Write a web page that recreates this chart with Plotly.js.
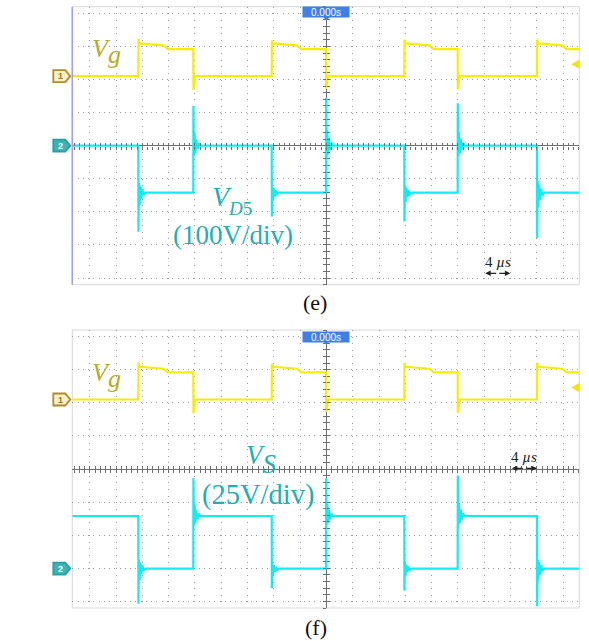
<!DOCTYPE html>
<html><head><meta charset="utf-8">
<script src="https://cdn.plot.ly/plotly-3.0.1.min.js"></script>
<style>html,body{margin:0;padding:0;background:#fff;} #chart{width:589px;height:641px;}</style>
</head><body><div id="chart"></div>
<script>
// ---------- data: time in µs, amplitude in screen divisions ----------
const X_RANGE = [-38.66, 38.45];
const Y_RANGE = [-4.2, 4.2];
const VG_RISE = [-28.62, -8.33, 11.83, 32.02];
const VG_FALL = [-20.26, -0.08, 19.95];
const VG_LEVELS = [2.10, 3.09, 3.03, 2.92];      // low, plateau start, plateau end, shelf
const VG_OVERSHOOT = [3.22, 3.18, 3.20, 3.21];
const VG_UNDERSHOOT = [1.68, 1.72, 1.70];
const VG_STEP = [3.8, 4.5];                       // µs after rising edge
const VD5_LEVELS = [0.0, -1.42];                  // off, on
const VD5_SPIKE_ON = [-2.60, -2.14, -2.29, -2.79];
const VD5_SPIKE_OFF = [1.20, 1.45, 1.28];
const VS_LEVELS = [-1.42, -3.01];
const VS_SPIKE_ON = [-4.07, -3.60, -3.68, -4.15];
const VS_SPIKE_OFF = [-0.27, -0.28, -0.20];
const RING_T = [0.02, 0.10, 0.20, 0.32, 0.46, 0.62, 0.82, 1.10];
const RING_F = [1.0, -0.25, 0.32, -0.18, 0.16, -0.09, 0.06, 0.0];
const TRIG_LEVEL = 2.46;
const CH2_MARK = [0.0, -3.01];                    // ch2 ground markers (top, bottom)
const SCALE_ARROW_TOP = [24.15, 27.95];
const SCALE_ARROW_BOT = [28.2, 32.0];
const LABELS = {vg:'V', g:'g', vd:'V', d5:'<i>D</i>5', div1:'(100V/div)', vs:'V', s:'S', div2:'(25V/div)', e:'(e)', f:'(f)', t:'0.000s', us:'4 <i>µs</i>'};

// ---------- build traces ----------
function buildVg(){
  const x=[X_RANGE[0]], y=[VG_LEVELS[0]];
  VG_RISE.forEach((t,i)=>{
    x.push(t, t+0.03, t+0.15, t+VG_STEP[0], t+VG_STEP[1]);
    y.push(VG_LEVELS[0], VG_OVERSHOOT[i], VG_LEVELS[1], VG_LEVELS[2], VG_LEVELS[3]);
    if(i<VG_FALL.length){
      const f=VG_FALL[i];
      x.push(f, f+0.03, f+0.3);
      y.push(VG_LEVELS[3], VG_UNDERSHOOT[i], VG_LEVELS[0]);
    }
  });
  x.push(X_RANGE[1]); y.push(VG_LEVELS[3]);
  return {x,y};
}
function buildCh2(levels, spOn, spOff){
  const off=levels[0], on=levels[1];
  const x=[X_RANGE[0]], y=[off];
  VG_RISE.forEach((t,i)=>{
    x.push(t); y.push(off);
    RING_T.forEach((d,k)=>{x.push(t+d); y.push(on+RING_F[k]*(spOn[i]-on));});
    if(i<VG_FALL.length){
      const f=VG_FALL[i];
      x.push(f); y.push(on);
      RING_T.forEach((d,k)=>{x.push(f+d); y.push(off+RING_F[k]*(spOff[i]-off));});
    }
  });
  x.push(X_RANGE[1]); y.push(on);
  return {x,y};
}
const vg = buildVg();
const vd5 = buildCh2(VD5_LEVELS, VD5_SPIKE_ON, VD5_SPIKE_OFF);
const vs = buildCh2(VS_LEVELS, VS_SPIKE_ON, VS_SPIKE_OFF);

const YEL='#f6ee00', CYA='#14ecf2', OLIVE='#b5ad2a', TEAL='#1fb0b2';
const tr = (d,c,xa,ya)=>({type:'scatter',mode:'lines',x:d.x,y:d.y,xaxis:xa,yaxis:ya,line:{color:c,width:2.2},hoverinfo:'skip'});
const data=[tr(vg,YEL,'x','y'),tr(vd5,CYA,'x','y'),tr(vg,YEL,'x2','y2'),tr(vs,CYA,'x2','y2')];
// empty helper traces so the crosshair tick axes are drawn
[['x3','y'],['x4','y'],['x','y3'],['x','y4'],['x5','y2'],['x6','y2'],['x2','y5'],['x2','y6']].forEach(p=>
  data.push({type:'scatter',mode:'lines',x:[],y:[],xaxis:p[0],yaxis:p[1],hoverinfo:'skip'}));

// ---------- layout ----------
const W=589,H=641;
const PX=v=>v/W, PY=v=>1-v/H;
const XD=[PX(72.3),PX(579.3)];
const TOP=[PY(284.7),PY(6.7)], BOT=[PY(608),PY(330)];
const xc = XD[0]+(0-X_RANGE[0])/(X_RANGE[1]-X_RANGE[0])*(XD[1]-XD[0]);
function xAx(anchor){return {domain:XD,range:X_RANGE,anchor,dtick:4,tick0:0,showgrid:true,gridcolor:'#9a9a9a',gridwidth:1,griddash:'1px,5.62px',zeroline:true,zerolinecolor:'#6e6e6e',zerolinewidth:1,showline:false,ticks:'',showticklabels:false,fixedrange:true};}
function yAx(anchor,dom){return {domain:dom,range:Y_RANGE,anchor,dtick:1,tick0:0,showgrid:true,gridcolor:'#9a9a9a',gridwidth:1,griddash:'1px,4.26px',zeroline:true,zerolinecolor:'#6e6e6e',zerolinewidth:1,showline:false,ticks:'',showticklabels:false,fixedrange:true};}
function xTk(over,pos,side){return {overlaying:over,anchor:'free',position:pos,range:X_RANGE,dtick:0.8,tick0:0,ticks:side,ticklen:3,tickwidth:1,tickcolor:'#6e6e6e',showgrid:false,zeroline:false,showline:false,showticklabels:false,fixedrange:true};}
function yTk(over,pos,side){return {overlaying:over,anchor:'free',position:pos,range:Y_RANGE,dtick:0.2,tick0:0,ticks:side,ticklen:3,tickwidth:1,tickcolor:'#6e6e6e',showgrid:false,zeroline:false,showline:false,showticklabels:false,fixedrange:true};}
const topMid=(TOP[0]+TOP[1])/2, botMid=(BOT[0]+BOT[1])/2;

const shapes=[];
[TOP,BOT].forEach(d=>shapes.push({type:'rect',xref:'paper',yref:'paper',x0:XD[0],x1:XD[1],y0:d[0],y1:d[1],line:{color:'#d8d8d8',width:1},layer:'below'}));
shapes.push({type:'line',xref:'paper',yref:'paper',x0:XD[0],x1:XD[0],y0:TOP[0],y1:TOP[1],line:{color:'#a2a2e0',width:1.6}});
function mark(yref,yv,fill,lc){shapes.push({type:'path',xref:'paper',yref,xsizemode:'pixel',ysizemode:'pixel',xanchor:XD[0],yanchor:yv,path:'M-19,-6L-7,-6L-2,0L-7,6L-19,6Z',fillcolor:fill,line:{color:lc,width:1.8}});}
mark('y',VG_LEVELS[0],'#f7efc6','#b08c2c');
mark('y2',VG_LEVELS[0],'#f7efc6','#b08c2c');
mark('y',CH2_MARK[0],'#3cb4b6','#2a9ea0');
mark('y2',CH2_MARK[1],'#3cb4b6','#2a9ea0');
['y','y2'].forEach(yr=>shapes.push({type:'path',xref:'paper',yref:yr,xsizemode:'pixel',ysizemode:'pixel',xanchor:XD[1],yanchor:TRIG_LEVEL,path:'M0,-4.5L0,4.5L-8,0Z',fillcolor:'#f2e600',line:{width:0}}));
[[PY(16.7),'x'],[PY(340.7),'x2']].forEach(p=>shapes.push({type:'path',xref:p[1],yref:'paper',xsizemode:'pixel',ysizemode:'pixel',xanchor:0,yanchor:p[0],path:'M-3.5,0L3.5,0L0,-4Z',fillcolor:'#3d7fe6',line:{width:0}}));

const SERIF='Liberation Serif';
const ann=[];
function txt(text,xp,yp,size,color,xanchor,yanchor){ann.push({xref:'paper',yref:'paper',x:PX(xp),y:PY(yp),text,showarrow:false,xanchor:xanchor||'center',yanchor:yanchor||'middle',borderpad:0,font:{family:SERIF,size,color}});}
const low=(t,px,fs)=>'<span style="baseline-shift:-'+px+'px'+(fs?';font-size:'+fs+'px':'')+'">'+t+'</span>';
// Vg labels
txt('<i>'+LABELS.vg+low(LABELS.g,6)+'</i>',106,51.5,26,OLIVE);
txt('<i>'+LABELS.vg+low(LABELS.g,6)+'</i>',106,375,26,OLIVE);
// VD5
txt('<i>'+LABELS.vd+'</i>'+low(LABELS.d5,9,19),232,200,28,TEAL);
txt(LABELS.div1,232.5,234.5,27,TEAL);
// VS
txt('<i>'+LABELS.vs+low(LABELS.s,9)+'</i>',261,459,27,TEAL);
txt(LABELS.div2,257.5,494.5,28.5,TEAL);
// panel letters
txt(LABELS.e,315,302.5,22,'#111'); txt(LABELS.f,316,627.5,22,'#111');
// channel numbers
function num(t,yref,yv,c){ann.push({xref:'paper',yref,x:PX(60),y:yv,text:'<b>'+t+'</b>',showarrow:false,xanchor:'center',yanchor:'middle',font:{family:'Liberation Sans',size:9,color:c}});}
num('1','y',VG_LEVELS[0],'#9a7a22'); num('1','y2',VG_LEVELS[0],'#9a7a22');
num('2','y',CH2_MARK[0],'#ffffff'); num('2','y2',CH2_MARK[1],'#ffffff');
// time reference boxes
[[PY(12),'x'],[PY(336.7),'x2']].forEach(p=>ann.push({xref:p[1],yref:'paper',x:0,y:p[0],text:LABELS.t,showarrow:false,xanchor:'center',yanchor:'middle',bgcolor:'#3d7fe6',borderpad:1,width:44,height:8,font:{family:'Liberation Sans',size:10,color:'#ffffff'}}));
// scale arrows
function scale(xa,ya,rng,yv,ty){
  const mid=(rng[0]+rng[1])/2;
  [rng[0],rng[1]].forEach(xv=>ann.push({xref:xa,yref:ya,x:xv,y:yv,axref:xa,ayref:ya,ax:mid,ay:yv,text:'',showarrow:true,arrowhead:2,arrowsize:0.9,arrowwidth:1.2,arrowcolor:'#222'}));
  ann.push({xref:xa,yref:ya,x:mid,y:ty,text:LABELS.us,showarrow:false,xanchor:'center',yanchor:'middle',font:{family:SERIF,size:15,color:'#222'}});
}
scale('x','y',SCALE_ARROW_TOP,-3.855,-3.5);
scale('x2','y2',SCALE_ARROW_BOT,0.02,0.36);

const layout={
  width:W,height:H,margin:{l:0,r:0,t:0,b:0},paper_bgcolor:'#ffffff',plot_bgcolor:'#ffffff',
  showlegend:false,hovermode:false,
  xaxis:xAx('y'), yaxis:yAx('x',TOP),
  xaxis2:xAx('y2'), yaxis2:yAx('x2',BOT),
  xaxis3:xTk('x',topMid,'outside'), xaxis4:xTk('x',topMid,'inside'),
  yaxis3:yTk('y',xc,'outside'), yaxis4:yTk('y',xc,'inside'),
  xaxis5:xTk('x2',botMid,'outside'), xaxis6:xTk('x2',botMid,'inside'),
  yaxis5:yTk('y2',xc,'outside'), yaxis6:yTk('y2',xc,'inside'),
  shapes, annotations:ann
};
Plotly.newPlot('chart',data,layout,{staticPlot:true,displayModeBar:false});
</script></body></html>
